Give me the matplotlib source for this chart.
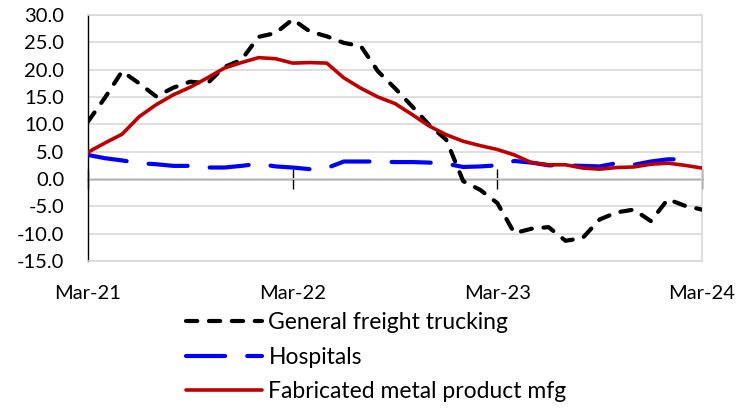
import numpy as np
import matplotlib
matplotlib.use("Agg")
import matplotlib.pyplot as plt

plt.rcParams['font.family'] = ['Lato', 'DejaVu Sans']

# monthly series, Mar-21 .. Mar-24
months = np.arange(37)
tick_pos = [0, 12, 24, 36]
tick_labels = ['Mar-21', 'Mar-22', 'Mar-23', 'Mar-24']

trucking = [10.5, 14.9, 19.7, 17.5, 15.1, 16.7, 17.8, 17.5, 20.5, 21.8, 26.0, 26.7,
            29.2, 27.0, 26.1, 24.9, 24.3, 19.7, 16.6, 13.3, 9.9, 7.2, -0.4, -2.0,
            -4.4, -9.9, -9.1, -8.8, -11.3, -10.8, -7.4, -6.1, -5.6, -7.7, -3.7, -4.9,
            -5.6]
hospitals = [4.4, 3.8, 3.4, 2.9, 2.7, 2.4, 2.4, 2.1, 2.1, 2.4, 2.8, 2.3,
             2.1, 1.8, 2.0, 3.2, 3.2, 3.2, 3.1, 3.1, 3.0, 2.8, 2.2, 2.3,
             2.5, 3.3, 3.0, 2.5, 2.5, 2.4, 2.3, 2.9, 2.6, 3.2, 3.6, 3.6,
             np.nan]
metal = [4.9, 6.6, 8.2, 11.4, 13.6, 15.4, 16.8, 18.5, 20.3, 21.3, 22.2, 22.0,
         21.2, 21.3, 21.2, 18.5, 16.6, 15.0, 13.8, 11.8, 9.7, 8.1, 6.9, 6.1,
         5.4, 4.4, 3.0, 2.6, 2.6, 2.0, 1.8, 2.1, 2.2, 2.7, 2.9, 2.5, 2.0]

fig = plt.figure(figsize=(7.52, 4.08), dpi=100)
ax = fig.add_axes([88/752, 1 - 261/408, (702-88)/752, (261-15)/408])

ax.plot(months, trucking, color='black', lw=3, dashes=(2.7, 2.8),
        dash_capstyle='round', label='General freight trucking', zorder=3)
ax.plot(months, hospitals, color='#0000FF', lw=3, dashes=(9.4, 5.3),
        dash_capstyle='round', label='Hospitals', zorder=3)
ax.plot(months, metal, color='#C00000', lw=2.6, solid_capstyle='round',
        label='Fabricated metal product mfg', zorder=4)

ax.set_xlim(0, 36)
ax.set_ylim(-15, 30)
ax.set_yticks(np.arange(-15, 31, 5))
ax.set_yticklabels([f'{v:.1f}' for v in np.arange(-15, 31, 5)])
ax.yaxis.grid(True, color='#D9D9D9', lw=1.2)
ax.set_axisbelow(True)
ax.tick_params(axis='y', length=0, labelsize=14.5, pad=17)

for s in ['top', 'right', 'bottom']:
    ax.spines[s].set_color('#D9D9D9')
    ax.spines[s].set_linewidth(1.2)
ax.spines['left'].set_color('black')
ax.spines['left'].set_linewidth(1)

# labels at the bottom, no marks
ax.set_xticks(tick_pos)
ax.set_xticklabels(tick_labels)
ax.tick_params(axis='x', length=0, labelsize=14.5, pad=17)

# zero axis with crossing ticks
zero_frac = 15 / 45
sec = ax.secondary_xaxis(zero_frac)
sec.set_xticks(tick_pos)
sec.tick_params(axis='x', direction='inout', length=14, width=1, color='black',
                labelbottom=False)
sec.spines['bottom'].set_color('black')
sec.spines['bottom'].set_linewidth(1)

fig.legend(loc='upper left', bbox_to_anchor=(186/752, 1 - 312/408), frameon=False,
           fontsize=16.5, handlelength=3.3, handletextpad=0.3, labelspacing=0.6,
           borderpad=0, borderaxespad=0)

fig.savefig('out.png', dpi=100)
